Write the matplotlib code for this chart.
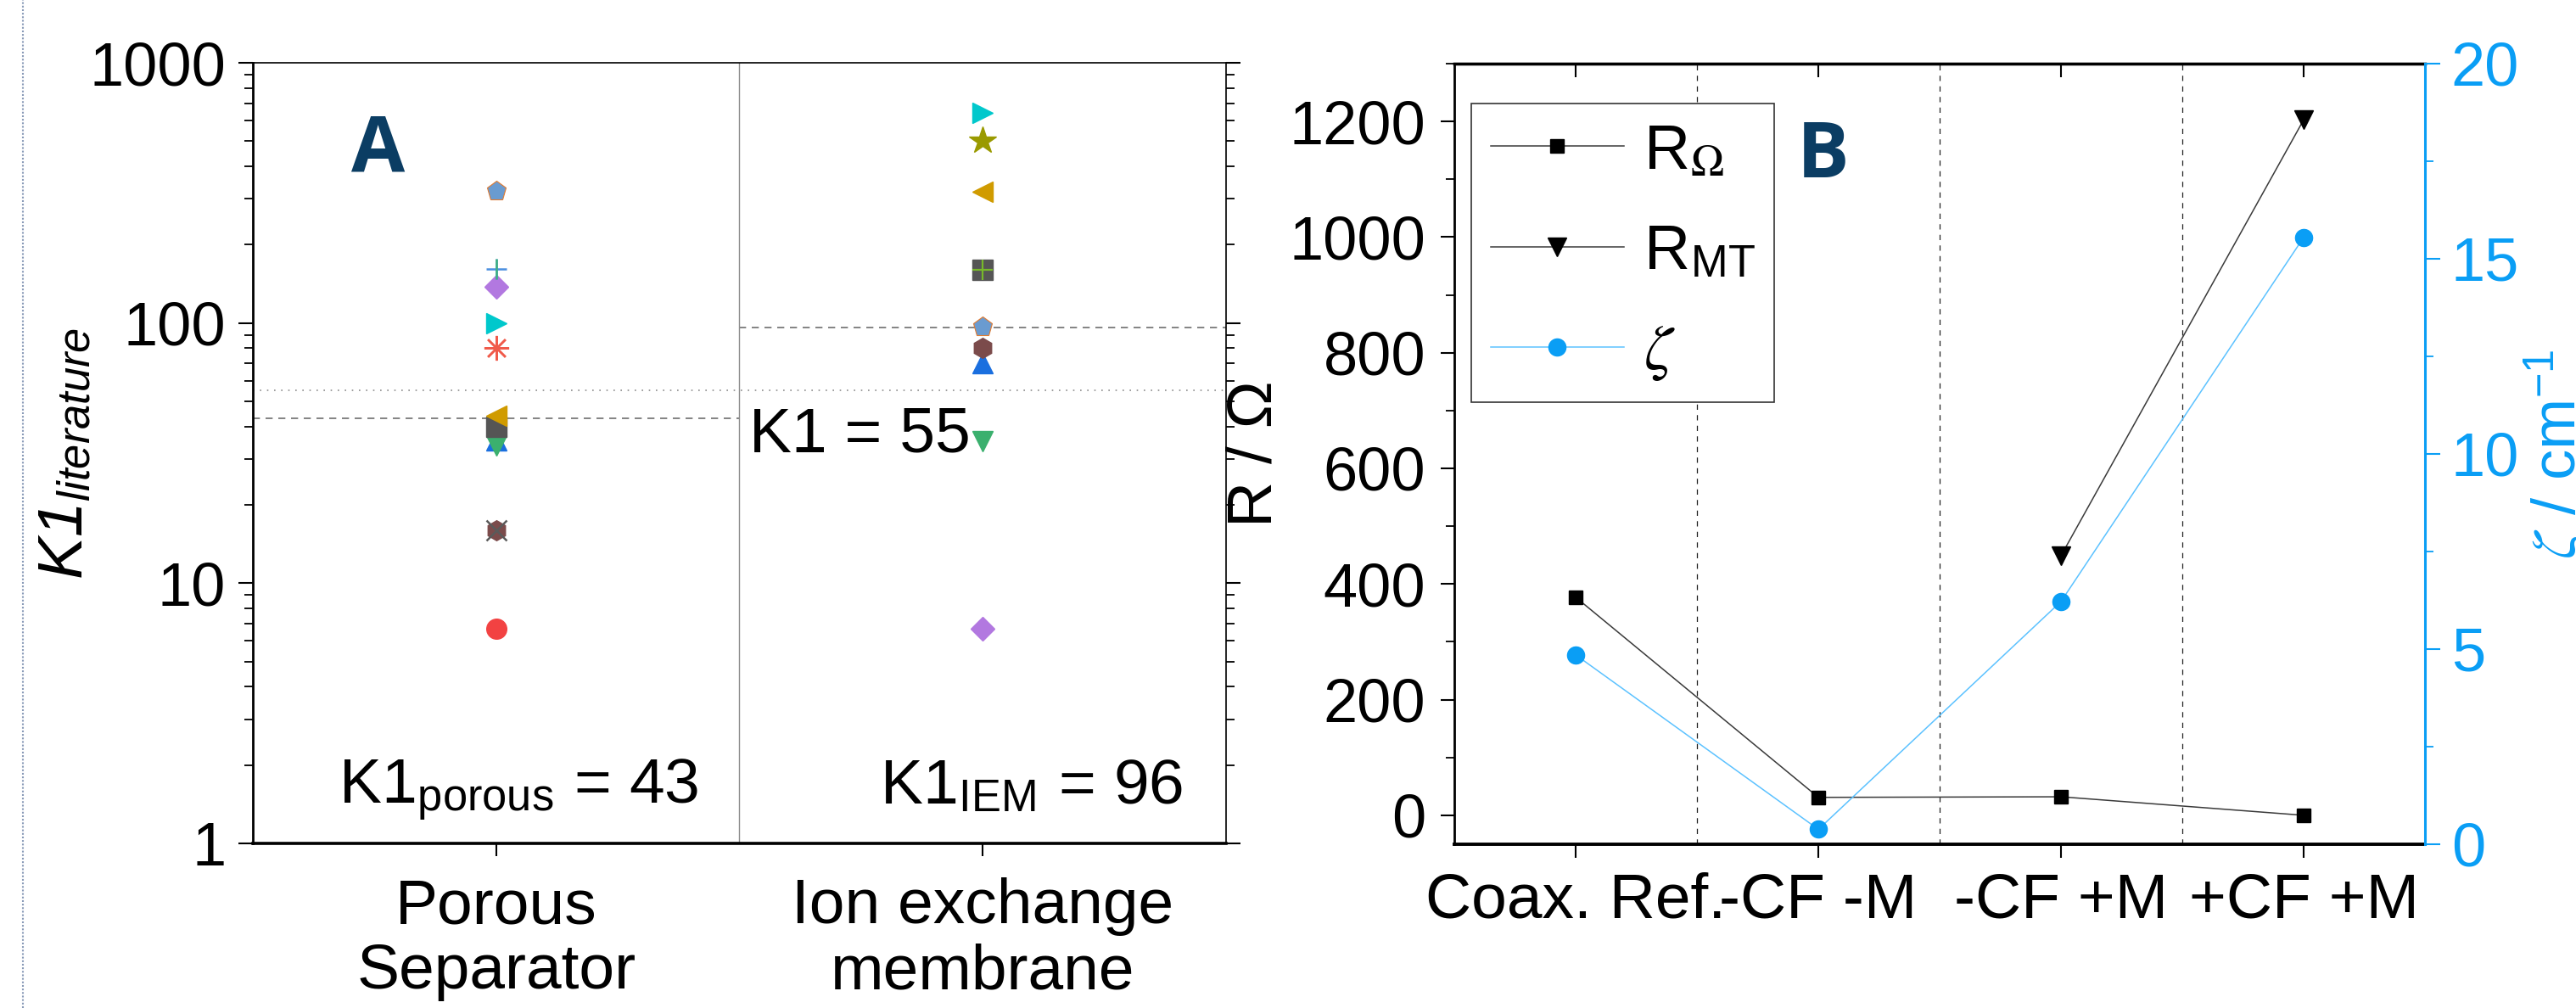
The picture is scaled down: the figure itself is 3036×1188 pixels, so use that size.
"""
K1 literature comparison (A) and resistance / zeta per configuration (B)
"""

import numpy as np
import matplotlib.pyplot as plt
from matplotlib.lines import Line2D
from matplotlib.ticker import LogLocator, MultipleLocator, NullFormatter

plt.rcParams['font.family'] = ['Liberation Sans', 'DejaVu Sans']
plt.rcParams['mathtext.fontset'] = 'stix'

# ---------------- data, panel A ----------------
groups = ['Porous\nSeparator', 'Ion exchange\nmembrane']

porous_k1 = [6.7, 16, 16, 35.3, 33.8, 40, 44, 80, 100, 138, 161, 323]
porous_mk = ['o', 'h', 'x', '^', 'v', 's', '<', (8, 2, 0), '>', 'D', '+', 'p']
porous_col = ['#f24242', '#7b4b4b', '#5a5a5a', '#1a6fdf', '#3bb06e', '#555555',
              '#d09b00', '#f05a4a', '#00c8cc', '#b278e0', '#4a8fe0', '#6a9bd0']

iem_k1 = [6.7, 35, 70, 80, 97, 160, 320, 500, 643]
iem_mk = ['D', 'v', '^', 'h', 'p', 's', '<', '*', '>']
iem_col = ['#b278e0', '#3bb06e', '#1a6fdf', '#7b4b4b', '#6a9bd0', '#555555',
           '#d09b00', '#9a9a00', '#00c8cc']

k1_porous = 43
k1_iem = 96
k1_all = 55

# ---------------- data, panel B ----------------
conditions = ['Coax. Ref.', '-CF -M', '-CF +M', '+CF +M']
r_ohm = [377, 31, 32, 0]
r_mt = [np.nan, np.nan, 449, 1203]
zeta = [4.85, 0.38, 6.22, 15.55]

blue = '#0a9ef5'
navy = '#0b3d63'

fig = plt.figure(figsize=(30.36, 11.88), dpi=100)

# dotted page border at the far left
fig.add_artist(Line2D([27 / 3036, 27 / 3036], [0, 1], transform=fig.transFigure,
                      color='#8a9bb8', lw=1.5, ls=(0, (1, 1))))

# ============================================
# Panel A
# ============================================
axA = fig.add_axes([0.0982, 0.1633, 0.3776, 0.7744])
axA.set_yscale('log')


def draw_marker(ax, x, y, mk, col):
    kw = dict(marker=mk, ls='none', color=col, ms=17, mec=col, zorder=5)
    if mk == 'D':
        kw['ms'] = 14
    elif mk == '*':
        kw['ms'] = 24
    elif mk == (8, 2, 0):
        kw['ms'] = 21
        kw['mew'] = 1.8
    elif mk in ('x', '+'):
        kw['ms'] = 17
        kw['mew'] = 1.8
    elif mk == 'p':
        kw['mec'] = '#e07a30'
        kw['mew'] = 0.8
    ax.plot([x], [y], **kw)


for v, mk, c in zip(porous_k1, porous_mk, porous_col):
    draw_marker(axA, 0, v, mk, c)
    if mk == '+':
        axA.plot([0], [v], marker='|', ms=17, mew=1.8, color='#3fb27f', ls='none', zorder=6)

for v, mk, c in zip(iem_k1, iem_mk, iem_col):
    draw_marker(axA, 1, v, mk, c)
    if mk == 's':
        axA.plot([1], [v], marker='+', ms=17, mew=1.6, color='#77b82a', ls='none', zorder=6)

axA.hlines(k1_porous, -0.5, 0.5, colors='#6e6e6e', lw=1.2, ls=(0, (5, 4)), zorder=2)
axA.hlines(k1_iem, 0.5, 1.5, colors='#6e6e6e', lw=1.2, ls=(0, (5, 4)), zorder=2)
axA.axhline(k1_all, color='#8c8c8c', lw=1.2, ls=(0, (1, 4)), zorder=2)
axA.axvline(0.5, color='#8c8c8c', lw=1.0, zorder=2)

axA.set_xlim(-0.5, 1.5)
axA.set_ylim(1, 1000)
axA.set_xticks([0, 1])
axA.set_xticklabels(groups, fontsize=54, linespacing=1.15)
axA.set_yticks([1, 10, 100, 1000])
axA.set_yticklabels(['1', '10', '100', '1000'], fontsize=52)
axA.yaxis.set_minor_locator(LogLocator(base=10, subs=np.arange(2, 10)))
axA.yaxis.set_minor_formatter(NullFormatter())

axA.tick_params(axis='y', which='major', direction='out', length=12, width=1.5,
                pad=11, right=True)
axA.tick_params(axis='y', which='minor', direction='out', length=7, width=1.3, right=True)
axA.tick_params(axis='x', which='major', direction='out', length=11, width=1.5, pad=18)
axA.spines['left'].set_linewidth(2.0)
axA.spines['bottom'].set_linewidth(2.6)
axA.spines['top'].set_linewidth(1.2)
axA.spines['right'].set_linewidth(1.2)

axA.set_ylabel('K1$_\\mathregular{literature}$', fontsize=54, fontstyle='italic')
axA.yaxis.set_label_coords(-0.162, 0.5)

axA.text(0.1008, 0.86, 'A', transform=axA.transAxes, fontsize=66, fontweight='bold',
         family='Open Sans', color=navy, ha='left', va='baseline')
axA.text(0.416, 1.42, 'K1$_\\mathregular{porous}$ = %d' % k1_porous, fontsize=54,
         ha='right', va='baseline')
axA.text(1.412, 1.42, 'K1$_\\mathregular{IEM}$ = %d' % k1_iem, fontsize=54,
         ha='right', va='baseline')
axA.text(0.521, 31.9, 'K1 = %d' % k1_all, fontsize=54, ha='left', va='baseline')

# ============================================
# Panel B
# ============================================
axB = fig.add_axes([0.5646, 0.1625, 0.3768, 0.7744])
axZ = axB.twinx()
x = np.arange(len(conditions))

for xv in [0.5, 1.5, 2.5]:
    axB.axvline(xv, color='#222222', lw=0.9, ls=(0, (5, 5)), zorder=1)

axB.plot(x, r_ohm, color='#3a3a3a', lw=1.1, marker='s', ms=12, mfc='black', mec='black',
         zorder=4)
axB.plot(x, r_mt, color='#3a3a3a', lw=1.1, marker='v', ms=16, mfc='black', mec='black',
         zorder=4)
axZ.plot(x, zeta, color='#5cc2ff', lw=1.1, marker='o', ms=14.5, mfc=blue, mec=blue,
         zorder=4)

axB.set_xlim(-0.5, 3.5)
axB.set_ylim(-50, 1300)
axB.set_xticks(x)
axB.set_xticklabels(conditions, fontsize=54)
axB.set_yticks(np.arange(0, 1201, 200))
axB.yaxis.set_minor_locator(MultipleLocator(100))
axB.tick_params(axis='y', labelsize=52)
axB.tick_params(axis='y', which='major', direction='out', length=11.5, width=1.5, pad=13)
axB.tick_params(axis='y', which='minor', direction='out', length=7, width=1.3)
axB.tick_params(axis='x', which='major', direction='out', length=11.5, width=1.5, pad=12)
axB.spines['right'].set_visible(False)
axB.spines['left'].set_linewidth(2.0)
axB.spines['bottom'].set_linewidth(2.8)
axB.spines['top'].set_linewidth(2.4)
axB.set_ylabel('R / Ω', fontsize=54)

top = axB.secondary_xaxis('top')
top.set_xticks(x)
top.tick_params(direction='in', length=11.5, width=1.5, labeltop=False)
top.spines['top'].set_linewidth(2.4)

axZ.set_ylim(0, 20)
axZ.set_yticks(np.arange(0, 21, 5))
axZ.yaxis.set_minor_locator(MultipleLocator(2.5))
axZ.tick_params(axis='y', which='major', direction='out', length=13, width=1.5, pad=9,
                colors=blue, labelsize=52)
axZ.tick_params(axis='y', which='minor', direction='out', length=7, width=1.3, colors=blue)
for s in ['left', 'top', 'bottom']:
    axZ.spines[s].set_visible(False)
axZ.spines['right'].set_color(blue)
axZ.spines['right'].set_linewidth(2.2)
axZ.set_ylabel('$\\zeta$ / cm$^\\mathregular{-1}$', fontsize=52, color=blue)
axZ.yaxis.set_label_coords(1.1, 0.5)

axZ.text(0.353, 0.854, 'B', transform=axB.transAxes, fontsize=66, fontweight='bold',
         family='Open Sans', color=navy, ha='left', va='baseline')

handles = [
    Line2D([], [], color='#3a3a3a', lw=1.1, marker='s', ms=12, mfc='black', mec='black'),
    Line2D([], [], color='#3a3a3a', lw=1.1, marker='v', ms=16, mfc='black', mec='black'),
    Line2D([], [], color='#5cc2ff', lw=1.1, marker='o', ms=14.5, mfc=blue, mec=blue),
]
labels = ['R$_\\Omega$', 'R$_\\mathregular{MT}$', '$\\zeta$']
leg = axZ.legend(handles, labels, loc='upper left', bbox_to_anchor=(0.0175, 0.949),
                 borderaxespad=0, frameon=True, fancybox=False, edgecolor='#333333',
                 framealpha=1, fontsize=54, handlelength=2.1, handletextpad=0.3,
                 labelspacing=0.66, borderpad=0.3)
leg.get_frame().set_linewidth(1.2)

plt.savefig('out.png', dpi=100)
